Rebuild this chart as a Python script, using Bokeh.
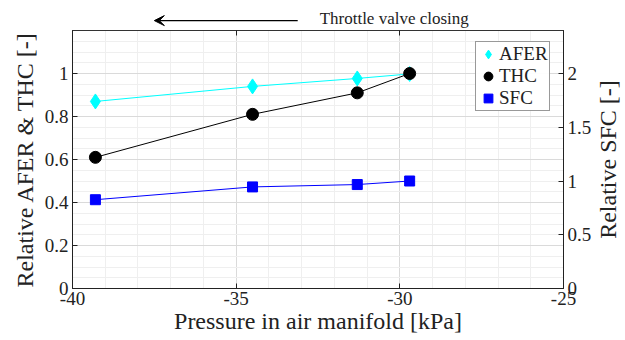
import math
from bokeh.plotting import figure
from bokeh.layouts import column, row
from bokeh.models import (Range1d, LinearAxis, FixedTicker, Legend, LegendItem,
                          Arrow, VeeHead, Label)
from bokeh.embed import file_html
from bokeh.resources import INLINE

# ---- data ----
pressure = [-39.3, -34.5, -31.3, -29.7]
afer = [0.87, 0.94, 0.977, 0.998]
thc = [0.61, 0.81, 0.91, 1.0]
sfc = [0.826, 0.945, 0.967, 1.0]

x_ticks = [-40, -35, -30, -25]
x_tick_labels = ["-40", "-35", "-30", "-25"]
y_left_ticks = [0, 0.2, 0.4, 0.6, 0.8, 1]
y_left_labels = ["0", "0.2", "0.4", "0.6", "0.8", "1"]
y_right_ticks = [0, 0.5, 1, 1.5, 2]
y_right_labels = ["0", "0.5", "1", "1.5", "2"]

x_minor = list(range(-40, -24))
y_minor = [round(i * 0.05, 2) for i in range(25)]

FONT = "'Liberation Serif'"
TICK_FS = "19px"
LABEL_FS = "24px"
TXT = "#222222"

TOP_H = 30
MAIN_H = 310
RIGHT_W = 30
BL = 72
BR_TOTAL = 62

p = figure(width=625 - RIGHT_W, height=MAIN_H, output_backend="svg",
           toolbar_location=None,
           x_range=Range1d(-40, -25), y_range=Range1d(0, 1.2),
           min_border_left=BL, min_border_right=BR_TOTAL - RIGHT_W,
           min_border_top=0, min_border_bottom=52,
           x_axis_location=None, y_axis_location=None)
p.extra_y_ranges = {"right": Range1d(0, 2.4)}
p.outline_line_color = "#333333"
p.outline_line_width = 1

def style_axis(ax):
    ax.major_label_text_font = FONT
    ax.major_label_text_font_size = TICK_FS
    ax.major_label_text_color = TXT
    ax.axis_label_text_font = FONT
    ax.axis_label_text_font_size = LABEL_FS
    ax.axis_label_text_font_style = "normal"
    ax.axis_label_text_color = TXT
    ax.major_tick_in = 5
    ax.major_tick_out = 0
    ax.minor_tick_in = 0
    ax.minor_tick_out = 0
    ax.axis_line_color = "#222222"
    ax.major_tick_line_color = "#222222"
    ax.major_label_standoff = 4

xaxis = LinearAxis(ticker=FixedTicker(ticks=x_ticks, minor_ticks=x_minor),
                   axis_label="Pressure in air manifold [kPa]")
xaxis.major_label_overrides = dict(zip(x_ticks, x_tick_labels))
style_axis(xaxis)
xaxis.major_label_standoff = 3
xaxis.axis_label_standoff = 0
p.add_layout(xaxis, "below")

topaxis = LinearAxis(ticker=FixedTicker(ticks=x_ticks))
style_axis(topaxis)
topaxis.major_label_text_font_size = "1px"
topaxis.major_label_text_color = None
topaxis.major_label_standoff = 0
topaxis.axis_line_color = "#333333"
p.add_layout(topaxis, "above")

yaxis = LinearAxis(ticker=FixedTicker(ticks=y_left_ticks, minor_ticks=y_minor),
                   axis_label="Relative AFER & THC [-]")
yaxis.major_label_overrides = dict(zip(y_left_ticks, y_left_labels))
style_axis(yaxis)
yaxis.axis_label_standoff = 4
p.add_layout(yaxis, "left")

raxis = LinearAxis(y_range_name="right",
                   ticker=FixedTicker(ticks=y_right_ticks))
raxis.major_label_overrides = dict(zip(y_right_ticks, y_right_labels))
style_axis(raxis)
p.add_layout(raxis, "right")

# grids
p.xgrid.ticker = xaxis.ticker
p.ygrid.ticker = yaxis.ticker
for g in (p.xgrid, p.ygrid):
    g.grid_line_color = "#dadada"
    g.grid_line_width = 1
    g.minor_grid_line_color = "#efefef"
    g.minor_grid_line_width = 1

# series
p.line(pressure, afer, line_color="#00ffff", line_width=1)
r_afer = p.scatter(pressure, afer, marker="diamond", size=15,
                   fill_color="#00ffff", line_color="#00ffff")
p.line(pressure, thc, line_color="black", line_width=1)
r_thc = p.scatter(pressure, thc, marker="circle", size=12,
                  fill_color="black", line_color="black")
p.line(pressure, sfc, line_color="#0000ff", line_width=1, y_range_name="right")
r_sfc = p.scatter(pressure, sfc, marker="square", size=10,
                  fill_color="#0000ff", line_color="#0000ff", y_range_name="right")

legend = Legend(items=[LegendItem(label="AFER", renderers=[r_afer]),
                       LegendItem(label="THC", renderers=[r_thc]),
                       LegendItem(label="SFC", renderers=[r_sfc])],
                location=(403, 177))
legend.label_text_font = FONT
legend.label_text_font_size = "19px"
legend.label_text_color = TXT
legend.glyph_width = 22
legend.glyph_height = 22
legend.label_standoff = 0
legend.padding = 1
legend.spacing = 0
legend.margin = 0
legend.border_line_color = "#333333"
legend.border_line_width = 1
legend.label_height = 22
p.add_layout(legend, "center")

# annotation strip above the plot
top = figure(width=625, height=TOP_H, output_backend="svg", toolbar_location=None,
             x_range=p.x_range, y_range=Range1d(0, 1),
             min_border_left=BL, min_border_right=BR_TOTAL, min_border_top=0,
             min_border_bottom=0, x_axis_location=None, y_axis_location=None)
top.outline_line_color = None
top.grid.visible = False

arrow_x = (-33.12, -37.5)
arrow_y = 0.33
top.add_layout(Arrow(end=VeeHead(size=10, fill_color="black", line_color="black"),
                     x_start=arrow_x[0], y_start=arrow_y,
                     x_end=arrow_x[1], y_end=arrow_y,
                     line_color="black", line_width=1.3))
top.add_layout(Label(x=-32.45, y=0.4, text="Throttle valve closing",
                     text_font=FONT, text_font_size="17px",
                     text_baseline="middle", text_color=TXT))

# strip on the right for the right-hand axis title
side = figure(width=RIGHT_W, height=MAIN_H, output_backend="svg",
              toolbar_location=None, x_range=Range1d(0, 1), y_range=Range1d(0, 1),
              min_border_left=0, min_border_right=0, min_border_top=0,
              min_border_bottom=0, x_axis_location=None, y_axis_location=None)
side.outline_line_color = None
side.grid.visible = False
side.add_layout(Label(x=0.42, y=0.5, text="Relative SFC [-]",
                      text_font=FONT, text_font_size=LABEL_FS,
                      text_align="center", text_baseline="middle",
                      angle=math.pi / 2, text_color=TXT))

layout = column(top, row(p, side, spacing=0), spacing=0)
open("out.html", "w").write(file_html(layout, INLINE))
